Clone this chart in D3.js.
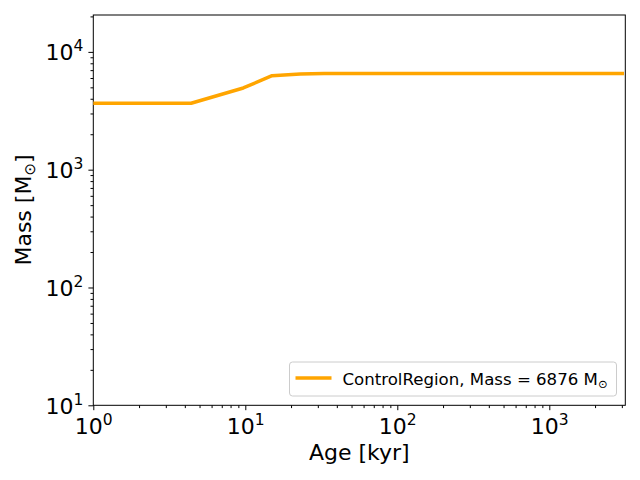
<!DOCTYPE html>
<html>
<head>
<meta charset="utf-8">
<script src="https://cdn.jsdelivr.net/npm/d3@7"></script>
<style>
  body { margin: 0; background: #fff; }
  text { font-family: "DejaVu Sans", sans-serif; fill: #000; }
</style>
</head>
<body>
<svg id="chart" width="640" height="480"></svg>
<script>
// age in kyr, mass in solar masses
const ages   = [1, 2, 3, 4.4, 9.7, 15, 23, 33, 50, 100, 300, 1000, 3100];
const masses = [3660, 3660, 3660, 3660, 4940, 6280, 6490, 6560, 6560, 6560, 6560, 6560, 6560];
const xMajor = [1, 10, 100, 1000];
const yMajor = [10, 100, 1000, 10000];
const seriesName = "ControlRegion, Mass = 6876 M";

const margin = {top: 15, right: 14.7, bottom: 74.7, left: 93.3};
const width = 640 - margin.left - margin.right;
const height = 480 - margin.top - margin.bottom;

const svg = d3.select("#chart");
const g = svg.append("g").attr("transform", `translate(${margin.left},${margin.top})`);

const x = d3.scaleLog().domain([1, 3162]).range([0, width]);
const y = d3.scaleLog().domain([10, 20560]).range([height, 0]);

function minorTicks(scale) {
	let [a, b] = scale.domain();
	let out = [];
	for (let p = Math.floor(Math.log10(a)); p <= Math.ceil(Math.log10(b)); p++) {
		for (let k = 2; k <= 9; k++) {
			let v = k * Math.pow(10, p);
			if (v >= a && v <= b) out.push(v);
		}
	}
	return out;
}

function powLabel(sel) {
	sel.each(function(d) {
		let t = d3.select(this);
		t.text(null);
		t.append("tspan").text("10");
		t.append("tspan").attr("dy", -9).attr("font-size", "15.5px").text(Math.round(Math.log10(d)));
	});
}

// minor ticks
g.append("g").attr("transform", `translate(0,${height})`)
	.call(d3.axisBottom(x).tickValues(minorTicks(x)).tickSize(2.8).tickFormat(""))
	.call(a => a.select(".domain").remove());
g.append("g")
	.call(d3.axisLeft(y).tickValues(minorTicks(y)).tickSize(2.8).tickFormat(""))
	.call(a => a.select(".domain").remove());

// major ticks
let xAxis = g.append("g").attr("transform", `translate(0,${height})`)
	.call(d3.axisBottom(x).tickValues(xMajor).tickSize(4.9).tickPadding(6));
xAxis.select(".domain").remove();
xAxis.selectAll("text").attr("font-size", "22px").attr("dy", null).attr("y", 29).call(powLabel);

let yAxis = g.append("g")
	.call(d3.axisLeft(y).tickValues(yMajor).tickSize(4.9).tickPadding(6));
yAxis.select(".domain").remove();
yAxis.selectAll("text").attr("font-size", "22px").attr("dy", null).attr("y", 8).attr("x", -10).call(powLabel);

g.selectAll(".tick line").attr("stroke", "#000").attr("stroke-width", 1);

// frame
g.append("rect").attr("width", width).attr("height", height)
	.attr("fill", "none").attr("stroke", "#000").attr("stroke-width", 1);

// series
const pts = ages.map((a, i) => [a, masses[i]]);
g.append("path").datum(pts)
	.attr("fill", "none")
	.attr("stroke", "#ffa500")
	.attr("stroke-width", 3.5)
	.attr("stroke-linejoin", "round")
	.attr("d", d3.line().x(d => x(d[0])).y(d => y(d[1])));

// axis labels
svg.append("text")
	.attr("x", margin.left + width / 2).attr("y", 460)
	.attr("text-anchor", "middle").attr("font-size", "22px")
	.text("Age [kyr]");

let yl = svg.append("text")
	.attr("transform", "translate(31,210) rotate(-90)")
	.attr("text-anchor", "middle").attr("font-size", "22px");
yl.append("tspan").text("Mass [M");
yl.append("tspan").attr("dy", 4).attr("font-size", "15px").text("⊙");
yl.append("tspan").attr("dy", -4).text("]");

// legend
let lg = svg.append("g").attr("transform", "translate(289.5,362)");
lg.append("rect").attr("width", 327).attr("height", 34).attr("rx", 3)
	.attr("fill", "#fff").attr("fill-opacity", 0.8)
	.attr("stroke", "#ccc").attr("stroke-width", 1);
lg.append("line").attr("x1", 6).attr("x2", 42).attr("y1", 16).attr("y2", 16)
	.attr("stroke", "#ffa500").attr("stroke-width", 3.5);
let lt = lg.append("text").attr("x", 53).attr("y", 23).attr("font-size", "16.6px");
lt.append("tspan").text(seriesName);
lt.append("tspan").attr("dy", 3).attr("font-size", "11.5px").text("⊙");
</script>
</body>
</html>
